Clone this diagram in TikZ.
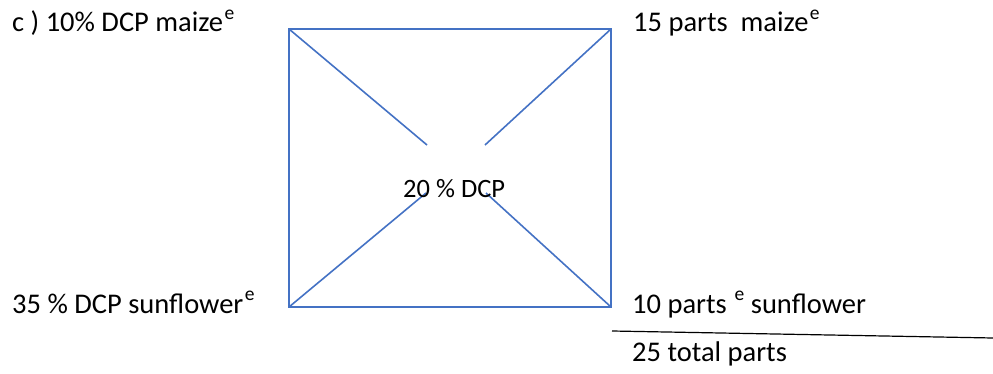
\documentclass[tikz,border=0pt]{standalone}
\usepackage{fontspec}
\setmainfont{Carlito}
\definecolor{boxblue}{HTML}{4472C4}
\newcommand\supE[1]{\hspace{1.5pt}\raisebox{0.45em}{\fontsize{19.5}{20}\selectfont #1}}
\begin{document}
\begin{tikzpicture}[x=1pt,y=-1pt,
  lbl/.style={anchor=base west,inner sep=0pt,font=\fontsize{28.5}{33}\selectfont},
  bl/.style={draw=boxblue,line width=1.6pt},
  frac/.style={draw=black,line width=1.2pt}]
\useasboundingbox (0,0) rectangle (993,374);
\coordinate (TL) at (289,29);
\coordinate (TR) at (611,29);
\coordinate (BL) at (289,307);
\coordinate (BR) at (611,307);
\coordinate (iTL) at (427,145);
\coordinate (iTR) at (485,145);
\coordinate (iBL) at (426,193);
\coordinate (iBR) at (486,193);
\draw[bl] (TL) rectangle (BR);
\draw[bl] (TL) -- (iTL);
\draw[bl] (TR) -- (iTR);
\draw[bl] (BL) -- (iBL);
\draw[bl] (BR) -- (iBR);
\node[lbl,font=\fontsize{26.5}{30}\selectfont] (mid) at (403,197) {20 \% DCP};
\node[lbl] (a) at (12,32) {c ) 10\% DCP maize\supE{e}};
\node[lbl] (b) at (633,32) {15 parts \ maize\supE{e}};
\node[lbl] (c) at (12,313) {35 \% DCP sunflower\supE{e}};
\node[lbl] (d) at (632,313) {10 parts \supE{e} sunflower};
\node[lbl] (f) at (632,361) {25 total parts};
\coordinate (L1) at (612,331);
\coordinate (L2) at (993,338);
\draw[frac] (L1) -- (L2);
\end{tikzpicture}
\end{document}
